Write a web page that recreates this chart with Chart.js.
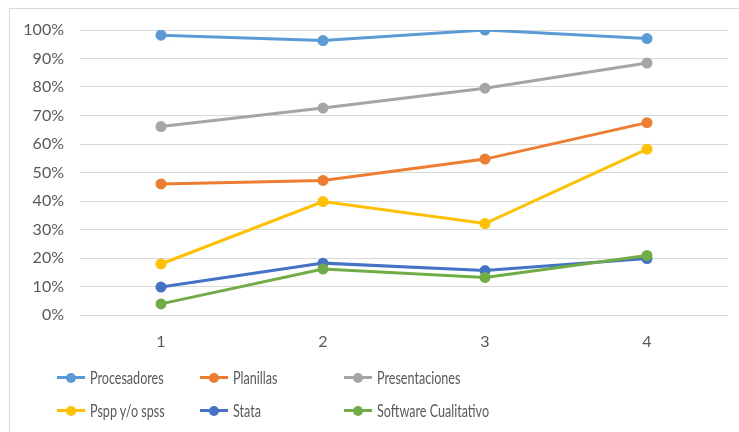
<!DOCTYPE html>
<html lang="es">
<head>
    <meta charset="UTF-8">
    <title>Uso de software</title>
    <style>
        body {
            margin: 0;
            background: #ffffff;
            font-family: Lato, "Open Sans", sans-serif;
        }

        #frame {
            position: absolute;
            left: 9px;
            top: 8px;
            width: 800px;
            height: 500px;
            border: 1px solid #d9d9d9;
        }

        #wrap {
            position: absolute;
            left: 0;
            top: 0;
            width: 739px;
            height: 360px;
        }

        #legend {
            position: absolute;
            left: 0;
            top: 0;
            width: 739px;
            height: 432px;
            pointer-events: none;
        }

        .item {
            position: absolute;
            height: 20px;
            line-height: 20px;
            font-family: Lato, sans-serif;
            font-size: 17px;
            color: #595959;
            white-space: nowrap;
        }

        .sym {
            position: absolute;
            left: 0;
            top: 8px;
            width: 28px;
            height: 3px;
        }

        .dot {
            position: absolute;
            left: 9px;
            top: 5px;
            width: 10px;
            height: 10px;
            border-radius: 50%;
        }

        .lbl {
            position: absolute;
            left: 33px;
            top: 0;
            transform: scaleX(0.74);
            transform-origin: left center;
        }
    </style>
    <script src="https://cdn.jsdelivr.net/npm/chart.js"></script>
</head>
<body>
    <div id="frame"></div>
    <div id="wrap">
        <canvas id="chart" width="739" height="360"></canvas>
    </div>
    <div id="legend"></div>

    <script>
        // data
        const categories = ['1', '2', '3', '4'];
        const procesadores = [98.2, 96.3, 100, 97.0];
        const planillas = [46.0, 47.2, 54.7, 67.5];
        const presentaciones = [66.1, 72.6, 79.6, 88.4];
        const pspp = [17.9, 39.8, 32.1, 58.2];
        const stata = [9.8, 18.2, 15.6, 19.8];
        const cualitativo = [3.9, 16.1, 13.2, 20.9];
        const yTicks = [0, 10, 20, 30, 40, 50, 60, 70, 80, 90, 100];

        const seriesNames = ['Procesadores', 'Planillas', 'Presentaciones', 'Pspp y/o spss', 'Stata', 'Software Cualitativo'];
        const seriesData = [procesadores, planillas, presentaciones, pspp, stata, cualitativo];
        const colors = ['#5B9BD5', '#ED7D31', '#A5A5A5', '#FFC000', '#4472C4', '#70AD47'];

        const datasets = seriesNames.map((name, i) => ({
            label: name,
            data: seriesData[i],
            borderColor: colors[i],
            backgroundColor: colors[i],
            borderWidth: 3,
            pointRadius: 5.5,
            pointHoverRadius: 5.5,
            pointBorderWidth: 0,
            tension: 0,
            order: -i
        }));

        const tickFont = { family: 'Lato', size: 16 };

        new Chart(document.getElementById('chart').getContext('2d'), {
            type: 'line',
            data: { labels: categories, datasets: datasets },
            options: {
                responsive: false,
                animation: false,
                layout: { padding: { left: 0, right: 11, top: 30, bottom: 0 } },
                plugins: {
                    legend: { display: false },
                    tooltip: { enabled: false }
                },
                scales: {
                    x: {
                        offset: true,
                        grid: { display: false },
                        border: { display: false },
                        ticks: { color: '#595959', font: tickFont, padding: 9 },
                        afterFit: s => { s.height = 45; }
                    },
                    y: {
                        min: 0,
                        max: 100,
                        afterBuildTicks: s => { s.ticks = yTicks.map(v => ({ value: v })); },
                        grid: { color: '#d9d9d9', lineWidth: 1, drawTicks: false },
                        border: { display: false },
                        ticks: {
                            color: '#595959',
                            font: tickFont,
                            padding: 16,
                            callback: v => v + '%'
                        },
                        afterFit: s => { s.width = 80; }
                    }
                }
            }
        });

        // legend laid out in three columns like the original
        const colX = [57, 200, 344];
        const rowY = [368, 401];
        const legend = document.getElementById('legend');
        seriesNames.forEach((name, i) => {
            const item = document.createElement('div');
            item.className = 'item';
            item.style.left = colX[i % 3] + 'px';
            item.style.top = rowY[Math.floor(i / 3)] + 'px';
            item.innerHTML = `<span class="sym" style="background:${colors[i]}"></span>` +
                `<span class="dot" style="background:${colors[i]}"></span>` +
                `<span class="lbl">${name}</span>`;
            legend.appendChild(item);
        });
    </script>
</body>
</html>
